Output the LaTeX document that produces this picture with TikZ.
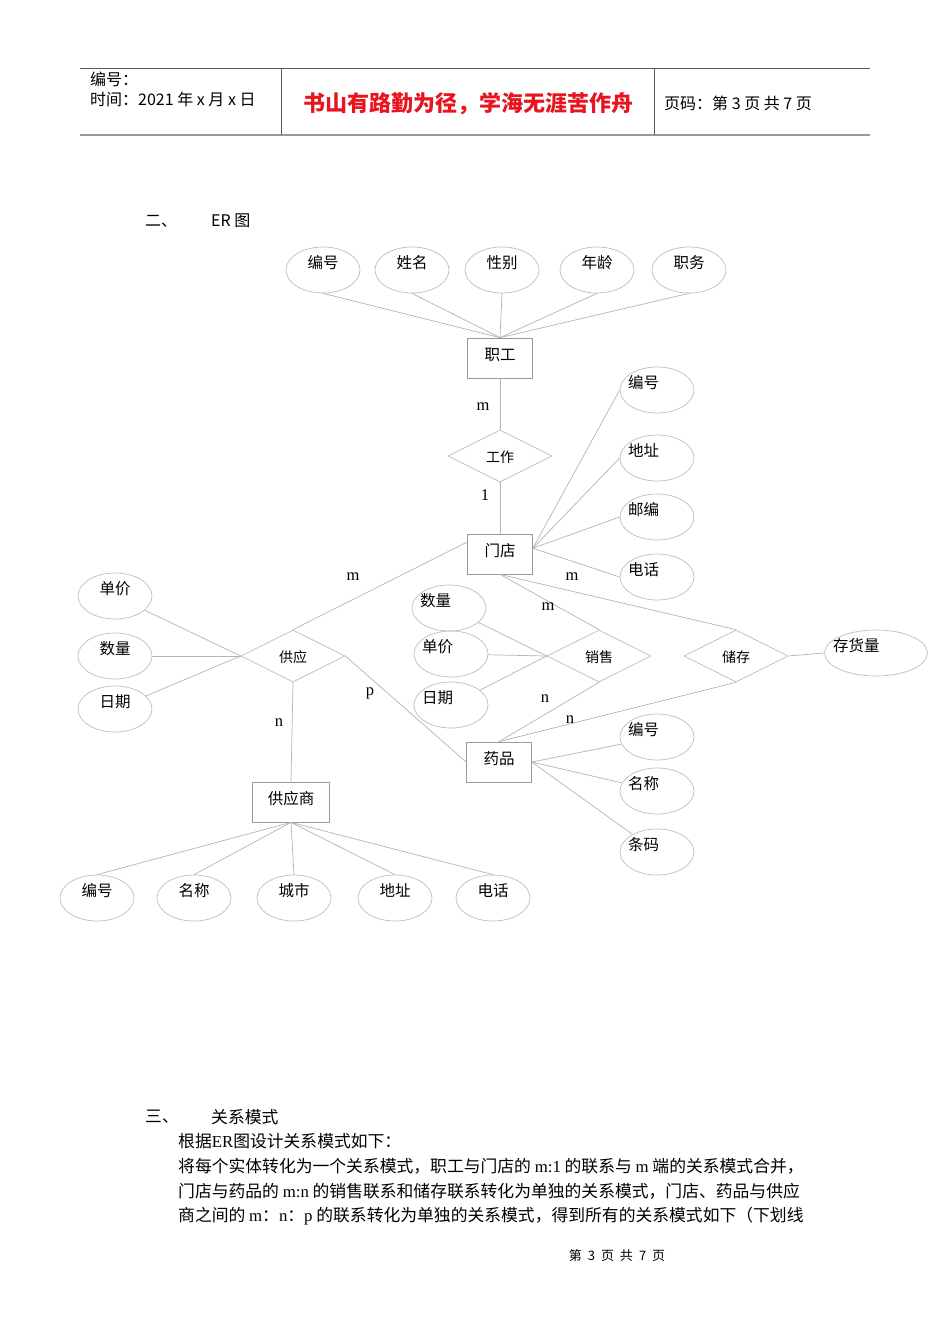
\documentclass[tikz,border=0pt]{standalone}
\usepackage{fontspec}
\setmainfont{Liberation Serif}
\newfontfamily\cjk{Noto Sans CJK SC}
\usetikzlibrary{shapes.geometric}

\definecolor{ellgray}{HTML}{BEBEBE}
\definecolor{linegray}{HTML}{B4B4B4}
\definecolor{boxgray}{HTML}{9A9A9A}
\definecolor{rulegray}{HTML}{5A5A5A}
\definecolor{titlered}{HTML}{E8141E}

% 楕円の中の文字を左寄せにする (左端からの距離を指定)
\newcommand{\ltxt}[2][29pt]{\makebox[0pt][l]{\hspace{-#1}#2}}

\begin{document}
\begin{tikzpicture}[x=1pt, y=-1pt,
    attr/.style={ellipse, draw=ellgray, line width=0.7pt, minimum width=74pt, minimum height=46pt,
        inner sep=0pt, text height=0pt, text depth=3pt, font=\cjk\fontsize{15.5}{15.5}\selectfont},
    entity/.style={rectangle, draw=boxgray, line width=0.7pt, minimum width=65pt, minimum height=40pt,
        inner sep=0pt, text height=5pt, text depth=0pt, font=\cjk\fontsize{15.5}{15.5}\selectfont},
    rel/.style={diamond, draw=ellgray, line width=0.7pt, minimum width=104pt, minimum height=52pt,
        inner sep=0pt, text height=13pt, text depth=0pt, font=\cjk\fontsize{14}{14}\selectfont},
    link/.style={draw=linegray, line width=0.7pt},
    card/.style={inner sep=0pt, font=\fontsize{16.5}{16.5}\selectfont},
    txt/.style={inner sep=0pt, anchor=west, font=\cjk\fontsize{16}{16}\selectfont},
    para/.style={inner sep=0pt, anchor=west, font=\cjk\fontsize{16.8}{16.8}\selectfont}]

    % ページ全体の大きさ (950x1344)
    \fill[white] (0,0) rectangle (950,1344);
    \useasboundingbox (0,0) rectangle (950,1344);

    % ヘッダの表
    \draw[rulegray, line width=0.8pt] (80,68) -- (870,68);
    \draw[boxgray, line width=2pt] (80,135) -- (870,135);
    \draw[rulegray, line width=0.8pt] (281,68) -- (281,135);
    \draw[rulegray, line width=0.8pt] (654,68) -- (654,135);
    \node[txt] (hno) at (90,79) {编号：};
    \node[txt] (hdate) at (90,99) {时间：2021 年 x 月 x 日};
    \node[inner sep=0pt, text=titlered, font=\cjk\bfseries\fontsize{22}{22}\selectfont] (htitle) at (468,104) {书山有路勤为径，学海无涯苦作舟};
    \node[txt] (hpage) at (664,103) {页码：第 3 页 共 7 页};

    % 見出し
    \node[txt] (sec2) at (145,221) {二、};
    \node[txt] (sec2t) at (211,221) {ER 图};

    % 職工とその属性
    \node[entity] (zg) at (500,358) {职工};
    \node[attr] (a1) at (323,270) {编号};
    \node[attr] (a2) at (412,270) {姓名};
    \node[attr] (a3) at (502,270) {性别};
    \node[attr] (a4) at (597,270) {年龄};
    \node[attr] (a5) at (689,270) {职务};
    \draw[link] (a1.south) -- (zg.north);
    \draw[link] (a2.south) -- (zg.north);
    \draw[link] (a3.south) -- (zg.north);
    \draw[link] (a4.south) -- (zg.north);
    \draw[link] (a5.south) -- (zg.north);

    % 工作 (職工 m : 1 門店)
    \node[rel] (gz) at (500,456) {工作};
    \node[entity] (md) at (500,554) {门店};
    \draw[link] (zg.south) -- (gz.north);
    \draw[link] (gz.south) -- (md.north);
    \node[card] (c1) at (483,407) {m};
    \node[card] (c2) at (485,495) {1};

    % 門店の属性
    \node[attr] (d1) at (657,390) {\ltxt{编号}};
    \node[attr] (d2) at (657,458) {\ltxt{地址}};
    \node[attr] (d3) at (657,517) {\ltxt{邮编}};
    \node[attr] (d4) at (657,577) {\ltxt{电话}};
    \draw[link] (md.10) -- (d1.west);
    \draw[link] (md.10) -- (d2.west);
    \draw[link] (md.10) -- (d3.west);
    \draw[link] (md.10) -- (d4.west);

    % 三つの関係
    \node[rel] (gy) at (293,656) {供应};
    \node[rel] (xs) at (599,656) {销售};
    \node[rel] (cc) at (736,656) {储存};
    \node[entity] (yp) at (499,762) {药品};
    \node[entity, minimum width=77pt] (gys) at (291,802) {供应商};
    \draw[link] (md.160) -- (gy.north);
    \draw[link] (md.south) -- (xs.north);
    \draw[link] (md.south) -- (cc.north);
    \draw[link] (xs.south) -- (yp.north);
    \draw[link] (cc.south) -- (yp.north);
    \draw[link] (gy.east) -- (yp.west);
    \draw[link] (gy.south) -- (gys.north);
    \node[card] (c3) at (353,577) {m};
    \node[card] (c4) at (572,577) {m};
    \node[card] (c5) at (548,607) {m};
    \node[card] (c6) at (545,699) {n};
    \node[card] (c7) at (570,720) {n};
    \node[card] (c8) at (370,693) {p};
    \node[card] (c9) at (279,723) {n};

    % 関係の属性
    \node[attr] (e1) at (115,596) {单价};
    \node[attr] (e2) at (115,656) {数量};
    \node[attr] (e3) at (115,709) {日期};
    \draw[link] (e1) -- (gy.west);
    \draw[link] (e2) -- (gy.west);
    \draw[link] (e3) -- (gy.west);
    \node[attr] (f1) at (449,608) {\ltxt{数量}};
    \node[attr] (f2) at (451,654) {\ltxt{单价}};
    \node[attr] (f3) at (451,705) {\ltxt{日期}};
    \draw[link] (f1) -- (xs.west);
    \draw[link] (f2) -- (xs.west);
    \draw[link] (f3) -- (xs.west);
    \node[attr, minimum width=103pt] (ch) at (876,653) {\ltxt[43pt]{存货量}};
    \draw[link] (cc.east) -- (ch.west);

    % 薬品の属性
    \node[attr] (g1) at (657,737) {\ltxt{编号}};
    \node[attr] (g2) at (657,791) {\ltxt{名称}};
    \node[attr] (g3) at (657,852) {\ltxt{条码}};
    \draw[link] (yp.east) -- (g1);
    \draw[link] (yp.east) -- (g2);
    \draw[link] (yp.east) -- (g3);

    % 供応商の属性
    \node[attr] (b1) at (97,898) {编号};
    \node[attr] (b2) at (194,898) {名称};
    \node[attr] (b3) at (294,898) {城市};
    \node[attr] (b4) at (395,898) {地址};
    \node[attr] (b5) at (493,898) {电话};
    \draw[link] (gys.south) -- (b1.north);
    \draw[link] (gys.south) -- (b2.north);
    \draw[link] (gys.south) -- (b3.north);
    \draw[link] (gys.south) -- (b4.north);
    \draw[link] (gys.south) -- (b5.north);

    % 本文
    \node[para] (sec3) at (145,1117) {三、};
    \node[para] (sec3t) at (211,1117) {关系模式};
    \node[para] (p1) at (178,1141) {根据\textrm{ER}图设计关系模式如下：};
    \node[para] (p2) at (178,1166) {将每个实体转化为一个关系模式，职工与门店的 \textrm{m:1} 的联系与 \textrm{m} 端的关系模式合并，};
    \node[para] (p3) at (178,1191) {门店与药品的 \textrm{m:n} 的销售联系和储存联系转化为单独的关系模式，门店、药品与供应};
    \node[para] (p4) at (178,1216) {商之间的 \textrm{m}：\textrm{n}：\textrm{p} 的联系转化为单独的关系模式，得到所有的关系模式如下（下划线};

    % ページ番号
    \node[inner sep=0pt, font=\cjk\fontsize{13}{13}\selectfont] (foot) at (617,1256)
        {第\hspace{6pt}3\hspace{6pt}页\hspace{6pt}共\hspace{6pt}7\hspace{6pt}页};
\end{tikzpicture}
\end{document}
